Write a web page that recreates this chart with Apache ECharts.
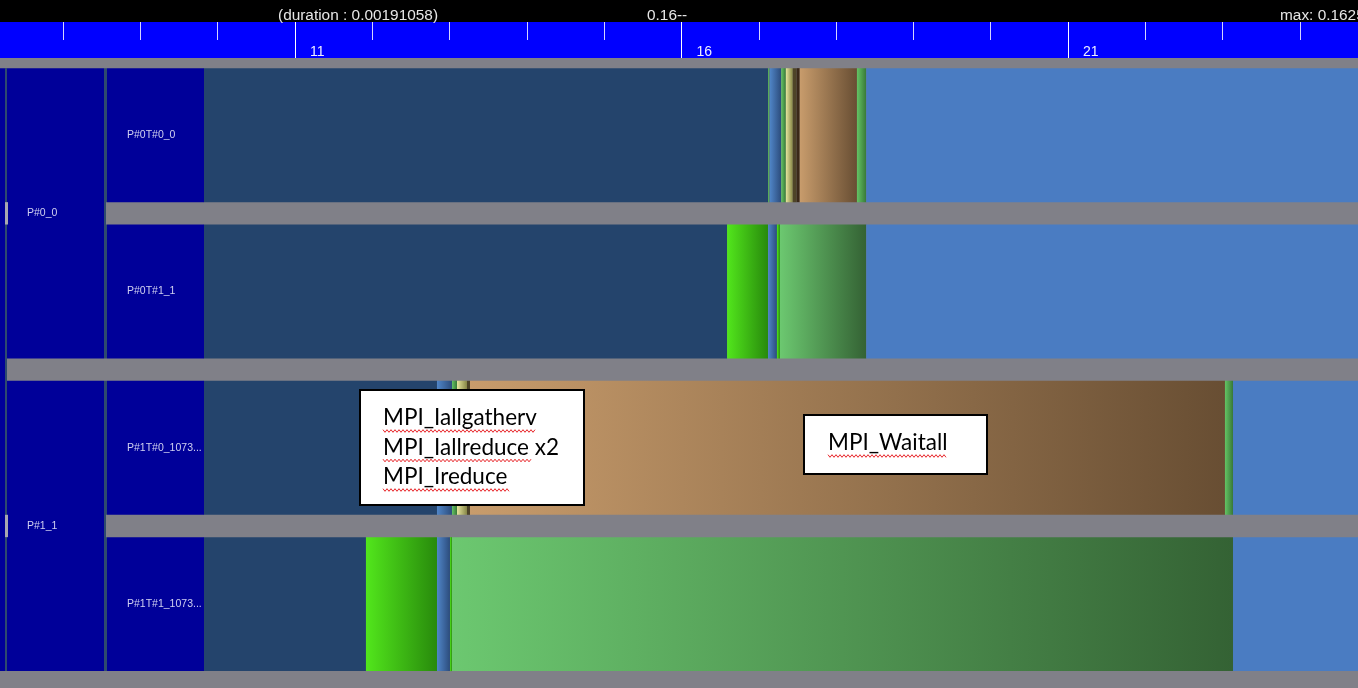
<!DOCTYPE html>
<html>
<head>
<meta charset="utf-8">
<script src="https://cdn.jsdelivr.net/npm/echarts@6/dist/echarts.min.js"></script>
<style>html,body{margin:0;padding:0;background:#808088;}#c{width:1358px;height:688px;}</style>
</head>
<body>
<div id="c"></div>
<script>
// ---------- data ----------
const threadNames = ['P#0T#0_0', 'P#0T#1_1', 'P#1T#0_1073...', 'P#1T#1_1073...'];
const processNames = ['P#0_0', 'P#1_1'];
const processFirstRow = [0, 2];
const processLastRow = [1, 3];
// states: [start, end, stateKind]  (time units of the ruler)
const statesRow0 = [[9.82,17.12,'run'],[17.12,17.14,'mid'],[17.14,17.29,'blue'],[17.29,17.35,'mid'],[17.35,17.44,'yellow'],[17.44,17.49,'olive'],[17.49,17.53,'dark'],[17.53,18.27,'tan'],[18.27,18.39,'mid'],[18.39,24.76,'idle']];
const statesRow1 = [[9.82,16.59,'run'],[16.59,17.12,'bright'],[17.12,17.235,'blue'],[17.235,17.274,'bright'],[17.274,18.39,'light'],[18.39,24.76,'idle']];
const statesRow2 = [[9.82,12.837,'run'],[12.837,13.031,'blue'],[13.031,13.096,'mid'],[13.096,13.225,'yellow'],[13.225,13.264,'olive'],[13.264,23.031,'tan'],[23.031,23.135,'mid'],[23.135,24.76,'idle']];
const statesRow3 = [[9.82,11.918,'run'],[11.918,12.837,'bright'],[12.837,13.005,'blue'],[13.005,13.031,'bright'],[13.031,23.135,'light'],[23.135,24.76,'idle']];
const axisMin = 7.1837, axisMax = 24.752;
const majorTicks = [11, 16, 21];
const minorTicks = [8, 9, 10, 12, 13, 14, 15, 17, 18, 19, 20, 22, 23, 24];
const headerTexts = ['(duration : 0.00191058)', '0.16--', 'max: 0.1625'];
const note1Lines = ['MPI_Iallgatherv', 'MPI_Iallreduce x2', 'MPI_Ireduce'];
const note2Lines = ['MPI_Waitall'];

// ---------- styles ----------
const G = (a, b) => new echarts.graphic.LinearGradient(0, 0, 1, 0, [{offset:0,color:a},{offset:1,color:b}]);
const stateFill = {
  run: '#24446c',
  idle: '#4a7cc2',
  blue: G('#5086c8', '#2c4c7c'),
  mid: G('#64c464', '#387838'),
  yellow: G('#e6e69e', '#868646'),
  olive: '#4e4428',
  dark: '#3a2818',
  tan: G('#c89c6c', '#684e33'),
  bright: G('#52e61c', '#288a0c'),
  light: G('#6cc870', '#346234')
};
const rowsStates = [statesRow0, statesRow1, statesRow2, statesRow3];
const stateData = [];
rowsStates.forEach((arr, r) => arr.forEach(s => stateData.push([r, s[0], s[1], s[2]])));

const ROW_FRAC = 0.857;
const BLUE_CELL = '#000099', EDGE = '#2e4a6e';
const FONT_SMALL = '10.5px "Liberation Sans", Arial, sans-serif';
const FONT_HEAD = '15.4px "Liberation Sans", Arial, sans-serif';
const FONT_NOTE = '22.5px Lato, "Open Sans", sans-serif';

const chart = echarts.init(document.getElementById('c'), null, {renderer: 'canvas'});

function wavy(x0, x1, y) {
  const pts = []; let up = true;
  for (let x = x0; x <= x1; x += 2) { pts.push([x, y + (up ? -1.3 : 1.3)]); up = !up; }
  return {type: 'polyline', shape: {points: pts}, style: {stroke: '#e8262a', lineWidth: 1, fill: 'none'}, z: 102, silent: true};
}
function noteEls(x, y, w, h, lines, tx, ty, lh, wl) {
  const els = [{type:'rect', shape:{x:x, y:y, width:w, height:h}, style:{fill:'#ffffff', stroke:'#000000', lineWidth:2}, z: 100}];
  lines.forEach((t, i) => {
    els.push({type:'text', x: tx, y: ty + i*lh, style:{text:t, fill:'#000000', font: FONT_NOTE, verticalAlign:'middle'}, z: 101});
    els.push(wavy(tx, tx + wl[i], ty + i*lh + 13));
  });
  return els;
}

const rulerGrid = () => ({left: 0, right: 0, top: 22, height: 36, show: false});
const tickAxis = (gi, values, len, color) => ({
  gridIndex: gi, type: 'value', position: 'top', min: axisMin, max: axisMax, z: 20,
  axisLine: {show: false, onZero: false}, splitLine: {show: false},
  axisTick: {show: true, inside: true, length: len, customValues: values, lineStyle: {color: color, width: 1}},
  axisLabel: {show: false}
});

const option = {
  backgroundColor: '#808088',
  animation: false,
  grid: [
    {left: 0, right: 0, top: 57, bottom: 5.7, show: false},
    rulerGrid(), rulerGrid(), rulerGrid()
  ],
  xAxis: [
    {gridIndex: 0, type: 'value', min: axisMin, max: axisMax, show: false},
    tickAxis(1, minorTicks, 18, '#d4d4ff'),
    tickAxis(2, majorTicks, 36, '#ffffff'),
    {gridIndex: 3, type: 'value', position: 'top', min: axisMin, max: axisMax, z: 21,
     axisLine: {show: false, onZero: false}, splitLine: {show: false}, axisTick: {show: false},
     axisLabel: {show: true, inside: true, customValues: majorTicks, color: '#eeeeff', fontSize: 14, fontFamily: 'Liberation Sans, Arial, sans-serif',
                 align: 'left', verticalAlign: 'middle', margin: 30, padding: [0,0,0,15]}}
  ],
  yAxis: [
    {gridIndex: 0, type: 'category', data: threadNames, inverse: true, show: false},
    {gridIndex: 1, type: 'value', min: 0, max: 1, show: false},
    {gridIndex: 2, type: 'value', min: 0, max: 1, show: false},
    {gridIndex: 3, type: 'value', min: 0, max: 1, show: false}
  ],
  series: [
    {
      type: 'custom', xAxisIndex: 0, yAxisIndex: 0,
      data: stateData,
      encode: {x: [1, 2], y: 0},
      renderItem: function (params, api) {
        const a = api.coord([api.value(1), api.value(0)]);
        const b = api.coord([api.value(2), api.value(0)]);
        const h = api.size([0, 1])[1] * ROW_FRAC;
        return {type: 'rect', shape: {x: a[0], y: a[1] - h/2, width: b[0] - a[0], height: h},
                style: {fill: stateFill[stateData[params.dataIndex][3]]}};
      }
    },
    {
      type: 'custom', xAxisIndex: 0, yAxisIndex: 0, z: 5,
      data: [[0, 3]],
      renderItem: function (params, api) {
        const t = api.coord([axisMin, 0]); const bt = api.coord([axisMin, 3]);
        const h = api.size([0, 1])[1] * ROW_FRAC;
        const y0 = t[1] - h/2, y1 = bt[1] + h/2;
        return {type: 'group', children: [
          {type:'rect', shape:{x:0, y:y0, width:5, height:y1-y0}, style:{fill:BLUE_CELL}},
          {type:'rect', shape:{x:5, y:y0, width:2, height:y1-y0}, style:{fill:EDGE}}
        ]};
      }
    },
    {
      type: 'custom', xAxisIndex: 0, yAxisIndex: 0, z: 6,
      data: processNames.map((n, i) => [processFirstRow[i], processLastRow[i]]),
      renderItem: function (params, api) {
        const i = params.dataIndex;
        const t = api.coord([axisMin, processFirstRow[i]]); const bt = api.coord([axisMin, processLastRow[i]]);
        const band = api.size([0, 1])[1]; const h = band * ROW_FRAC;
        const y0 = t[1] - h/2, y1 = bt[1] + h/2;
        const ch = [
          {type:'rect', shape:{x:5, y:y0, width:2, height:y1-y0}, style:{fill:EDGE}},
          {type:'rect', shape:{x:7, y:y0, width:97, height:y1-y0}, style:{fill:BLUE_CELL}},
          {type:'rect', shape:{x:104, y:y0, width:2, height:y1-y0}, style:{fill:EDGE}},
          {type:'text', x: 27, y: (y0 + y1)/2, style:{text: processNames[i], fill:'#d0d0f0', font: FONT_SMALL, verticalAlign:'middle'}}
        ];
        for (let r = processFirstRow[i]; r < processLastRow[i]; r++) {
          const c = api.coord([axisMin, r]);
          ch.push({type:'rect', shape:{x:5, y:c[1] + h/2, width:3, height:band - h}, style:{fill:'#a8a8b0'}});
        }
        return {type: 'group', children: ch};
      }
    },
    {
      type: 'custom', xAxisIndex: 0, yAxisIndex: 0, z: 7,
      data: threadNames.map((n, i) => [i]),
      renderItem: function (params, api) {
        const c = api.coord([axisMin, params.dataIndex]);
        const h = api.size([0, 1])[1] * ROW_FRAC;
        return {type: 'group', children: [
          {type:'rect', shape:{x:106, y:c[1] - h/2, width:1, height:h}, style:{fill:EDGE}},
          {type:'rect', shape:{x:107, y:c[1] - h/2, width:97, height:h}, style:{fill:BLUE_CELL}},
          {type:'text', x: 127, y: c[1], style:{text: threadNames[params.dataIndex], fill:'#d0d0f0', font: FONT_SMALL, verticalAlign:'middle'}}
        ]};
      }
    }
  ],
  graphic: [
    {type:'rect', shape:{x:0, y:22, width:1358, height:36}, style:{fill:'#0000ff'}, z: -10},
    {type:'rect', shape:{x:0, y:0, width:1358, height:22}, style:{fill:'#000000'}, z: 50},
    {type:'text', x: 278, y: 16, style:{text: headerTexts[0], fill:'#e6e6e6', font: FONT_HEAD, verticalAlign:'middle'}, z: 51},
    {type:'text', x: 647, y: 16, style:{text: headerTexts[1], fill:'#e6e6e6', font: FONT_HEAD, verticalAlign:'middle'}, z: 51},
    {type:'text', x: 1280, y: 16, style:{text: headerTexts[2], fill:'#e6e6e6', font: FONT_HEAD, verticalAlign:'middle'}, z: 51}
  ].concat(noteEls(360, 390, 224, 115, note1Lines, 383, 418, 29.5, [152, 148, 126]))
   .concat(noteEls(804, 415, 183, 59, note2Lines, 828, 443, 0, [118]))
};
chart.setOption(option);
</script>
</body>
</html>
